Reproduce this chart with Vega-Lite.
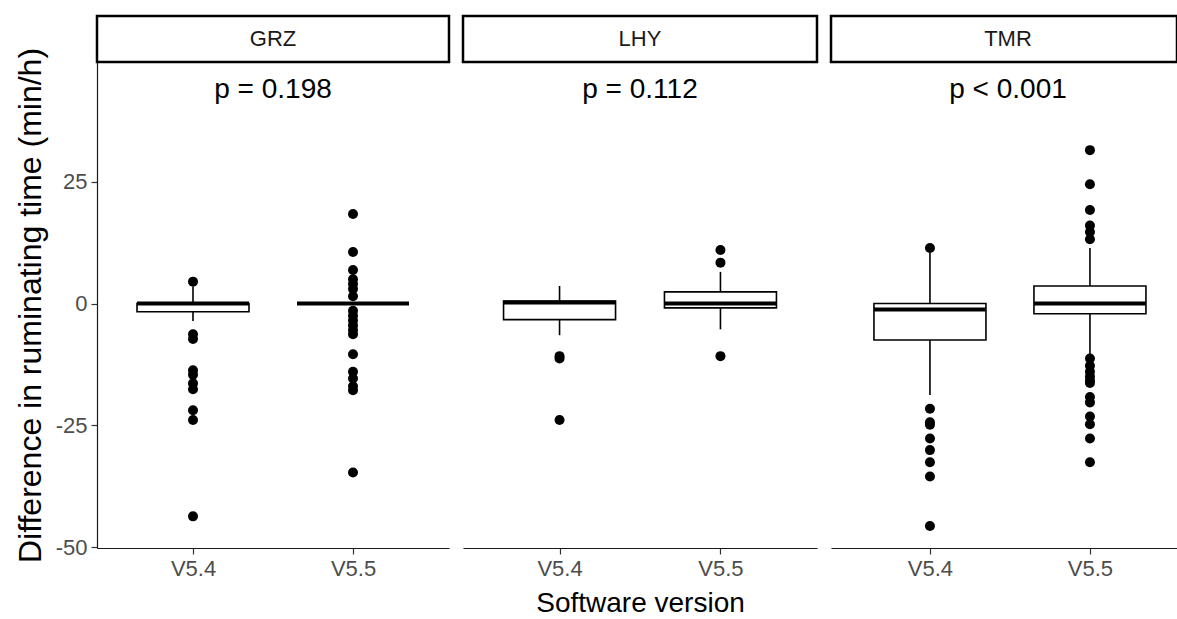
{
  "$schema": "https://vega.github.io/schema/vega-lite/v6.json",
  "padding": {"left": 14, "top": 14, "right": 0, "bottom": 0},
  "background": "white",
  "datasets": {
    "stats": [
      {"group": "GRZ", "version": "V5.4", "lower": -3.6, "q1": -1.7, "median": 0, "q3": 0, "upper": 3.5},
      {"group": "GRZ", "version": "V5.5", "lower": 0, "q1": 0, "median": 0, "q3": 0, "upper": 0},
      {"group": "LHY", "version": "V5.4", "lower": -6.5, "q1": -3.3, "median": 0.2, "q3": 0.5, "upper": 3.6},
      {"group": "LHY", "version": "V5.5", "lower": -5.3, "q1": -0.9, "median": 0, "q3": 2.4, "upper": 6.5},
      {"group": "TMR", "version": "V5.4", "lower": -18.8, "q1": -7.5, "median": -1.2, "q3": 0, "upper": 10.5},
      {"group": "TMR", "version": "V5.5", "lower": -10.5, "q1": -2.1, "median": 0, "q3": 3.6, "upper": 11.4}
    ],
    "outliers": [
      {"group": "GRZ", "version": "V5.4", "value": 4.5},
      {"group": "GRZ", "version": "V5.4", "value": -6.3},
      {"group": "GRZ", "version": "V5.4", "value": -7.3},
      {"group": "GRZ", "version": "V5.4", "value": -13.7},
      {"group": "GRZ", "version": "V5.4", "value": -14.6},
      {"group": "GRZ", "version": "V5.4", "value": -16.4},
      {"group": "GRZ", "version": "V5.4", "value": -17.6},
      {"group": "GRZ", "version": "V5.4", "value": -21.9},
      {"group": "GRZ", "version": "V5.4", "value": -23.9},
      {"group": "GRZ", "version": "V5.4", "value": -43.7},
      {"group": "GRZ", "version": "V5.5", "value": 18.4},
      {"group": "GRZ", "version": "V5.5", "value": 10.6},
      {"group": "GRZ", "version": "V5.5", "value": 6.9},
      {"group": "GRZ", "version": "V5.5", "value": 5.0},
      {"group": "GRZ", "version": "V5.5", "value": 4.0},
      {"group": "GRZ", "version": "V5.5", "value": 3.0},
      {"group": "GRZ", "version": "V5.5", "value": 1.5},
      {"group": "GRZ", "version": "V5.5", "value": -1.5},
      {"group": "GRZ", "version": "V5.5", "value": -2.5},
      {"group": "GRZ", "version": "V5.5", "value": -3.5},
      {"group": "GRZ", "version": "V5.5", "value": -4.5},
      {"group": "GRZ", "version": "V5.5", "value": -5.5},
      {"group": "GRZ", "version": "V5.5", "value": -6.3},
      {"group": "GRZ", "version": "V5.5", "value": -10.4},
      {"group": "GRZ", "version": "V5.5", "value": -14.0},
      {"group": "GRZ", "version": "V5.5", "value": -15.4},
      {"group": "GRZ", "version": "V5.5", "value": -17.0},
      {"group": "GRZ", "version": "V5.5", "value": -17.8},
      {"group": "GRZ", "version": "V5.5", "value": -34.7},
      {"group": "LHY", "version": "V5.4", "value": -10.8},
      {"group": "LHY", "version": "V5.4", "value": -11.3},
      {"group": "LHY", "version": "V5.4", "value": -23.9},
      {"group": "LHY", "version": "V5.5", "value": 11.0},
      {"group": "LHY", "version": "V5.5", "value": 8.4},
      {"group": "LHY", "version": "V5.5", "value": -10.8},
      {"group": "TMR", "version": "V5.4", "value": 11.4},
      {"group": "TMR", "version": "V5.4", "value": -21.6},
      {"group": "TMR", "version": "V5.4", "value": -24.4},
      {"group": "TMR", "version": "V5.4", "value": -24.9},
      {"group": "TMR", "version": "V5.4", "value": -27.7},
      {"group": "TMR", "version": "V5.4", "value": -30.1},
      {"group": "TMR", "version": "V5.4", "value": -32.6},
      {"group": "TMR", "version": "V5.4", "value": -35.5},
      {"group": "TMR", "version": "V5.4", "value": -45.7},
      {"group": "TMR", "version": "V5.5", "value": 31.5},
      {"group": "TMR", "version": "V5.5", "value": 24.5},
      {"group": "TMR", "version": "V5.5", "value": 19.2},
      {"group": "TMR", "version": "V5.5", "value": 16.0},
      {"group": "TMR", "version": "V5.5", "value": 14.7},
      {"group": "TMR", "version": "V5.5", "value": 13.2},
      {"group": "TMR", "version": "V5.5", "value": -11.3},
      {"group": "TMR", "version": "V5.5", "value": -12.8},
      {"group": "TMR", "version": "V5.5", "value": -14.0},
      {"group": "TMR", "version": "V5.5", "value": -15.0},
      {"group": "TMR", "version": "V5.5", "value": -15.8},
      {"group": "TMR", "version": "V5.5", "value": -16.3},
      {"group": "TMR", "version": "V5.5", "value": -19.2},
      {"group": "TMR", "version": "V5.5", "value": -20.3},
      {"group": "TMR", "version": "V5.5", "value": -23.2},
      {"group": "TMR", "version": "V5.5", "value": -24.8},
      {"group": "TMR", "version": "V5.5", "value": -27.7},
      {"group": "TMR", "version": "V5.5", "value": -32.6}
    ],
    "pvals": [
      {"group": "GRZ", "label": "p = 0.198"},
      {"group": "LHY", "label": "p = 0.112"},
      {"group": "TMR", "label": "p < 0.001"}
    ]
  },
  "spacing": 10,
  "hconcat": [
    {
      "spacing": 0,
      "bounds": "flush",
      "vconcat": [
        {
          "width": 352, "height": 46,
          "view": {"stroke": "black", "strokeWidth": 2.5, "fill": "white"},
          "data": {"name": "pvals"},
          "transform": [{"filter": "datum.group === 'GRZ'"}],
          "mark": {"type": "text", "fontSize": 22, "color": "#1a1a1a", "font": "Liberation Sans"},
          "encoding": {"text": {"field": "group"}}
        },
        {
          "width": 352, "height": 486,
          "layer": [
            {
              "mark": {"type": "rule", "strokeDash": [7, 5], "strokeWidth": 1.3, "color": "black"},
              "encoding": {"y": {"datum": 0, "type": "quantitative", "scale": {"domain": [-50.2, 49.6], "nice": false, "zero": false}, "axis": {"values": [-50, -25, 0, 25], "labelExpr": "'' + datum.value", "title": "Difference in ruminating time (min/h)", "titlePadding": 8, "titleFontSize": 32}}}
            },
            {
              "data": {"name": "stats"},
              "transform": [{"filter": "datum.group === 'GRZ'"}],
              "mark": {"type": "rule", "strokeWidth": 1.6, "color": "black"},
              "encoding": {
                "x": {"field": "version", "type": "nominal", "scale": {"type": "point", "padding": 0.6}, "axis": {"title": null}},
                "y": {"field": "lower", "type": "quantitative", "axis": {"values": [-50, -25, 0, 25], "labelExpr": "'' + datum.value", "title": "Difference in ruminating time (min/h)", "titlePadding": 8, "titleFontSize": 32}},
                "y2": {"field": "upper"}
              }
            },
            {
              "data": {"name": "stats"},
              "transform": [{"filter": "datum.group === 'GRZ'"}],
              "mark": {"type": "bar", "size": 112, "fill": "white", "stroke": "black", "strokeWidth": 1.6},
              "encoding": {
                "x": {"field": "version", "type": "nominal", "axis": {"title": null}},
                "y": {"field": "q1", "type": "quantitative", "axis": {"values": [-50, -25, 0, 25], "labelExpr": "'' + datum.value", "title": "Difference in ruminating time (min/h)", "titlePadding": 8, "titleFontSize": 32}},
                "y2": {"field": "q3"}
              }
            },
            {
              "data": {"name": "stats"},
              "transform": [{"filter": "datum.group === 'GRZ'"}],
              "mark": {"type": "tick", "size": 112, "thickness": 4, "color": "black", "opacity": 1},
              "encoding": {
                "x": {"field": "version", "type": "nominal", "axis": {"title": null}},
                "y": {"field": "median", "type": "quantitative", "axis": {"values": [-50, -25, 0, 25], "labelExpr": "'' + datum.value", "title": "Difference in ruminating time (min/h)", "titlePadding": 8, "titleFontSize": 32}}
              }
            },
            {
              "data": {"name": "outliers"},
              "transform": [{"filter": "datum.group === 'GRZ'"}],
              "mark": {"type": "circle", "size": 100, "opacity": 1, "color": "black"},
              "encoding": {
                "x": {"field": "version", "type": "nominal", "axis": {"title": null}},
                "y": {"field": "value", "type": "quantitative", "axis": {"values": [-50, -25, 0, 25], "labelExpr": "'' + datum.value", "title": "Difference in ruminating time (min/h)", "titlePadding": 8, "titleFontSize": 32}}
              }
            },
            {
              "data": {"name": "pvals"},
              "transform": [{"filter": "datum.group === 'GRZ'"}],
              "mark": {"type": "text", "fontSize": 28, "color": "black", "font": "Liberation Sans"},
              "encoding": {
                "text": {"field": "label"},
                "y": {"datum": 43.9, "type": "quantitative", "axis": {"values": [-50, -25, 0, 25], "labelExpr": "'' + datum.value", "title": "Difference in ruminating time (min/h)", "titlePadding": 8, "titleFontSize": 32}}
              }
            }
          ]
        }
      ]
    },
    {
      "spacing": 0,
      "bounds": "flush",
      "vconcat": [
        {
          "width": 354, "height": 46,
          "view": {"stroke": "black", "strokeWidth": 2.5, "fill": "white"},
          "data": {"name": "pvals"},
          "transform": [{"filter": "datum.group === 'LHY'"}],
          "mark": {"type": "text", "fontSize": 22, "color": "#1a1a1a", "font": "Liberation Sans"},
          "encoding": {"text": {"field": "group"}}
        },
        {
          "width": 354, "height": 486,
          "layer": [
            {
              "mark": {"type": "rule", "strokeDash": [7, 5], "strokeWidth": 1.3, "color": "black"},
              "encoding": {"y": {"datum": 0, "type": "quantitative", "scale": {"domain": [-50.2, 49.6], "nice": false, "zero": false}, "axis": null}}
            },
            {
              "data": {"name": "stats"},
              "transform": [{"filter": "datum.group === 'LHY'"}],
              "mark": {"type": "rule", "strokeWidth": 1.6, "color": "black"},
              "encoding": {
                "x": {"field": "version", "type": "nominal", "scale": {"type": "point", "padding": 0.6}, "axis": {"title": "Software version", "titlePadding": 10}},
                "y": {"field": "lower", "type": "quantitative", "axis": null},
                "y2": {"field": "upper"}
              }
            },
            {
              "data": {"name": "stats"},
              "transform": [{"filter": "datum.group === 'LHY'"}],
              "mark": {"type": "bar", "size": 112, "fill": "white", "stroke": "black", "strokeWidth": 1.6},
              "encoding": {
                "x": {"field": "version", "type": "nominal", "axis": {"title": "Software version", "titlePadding": 10}},
                "y": {"field": "q1", "type": "quantitative", "axis": null},
                "y2": {"field": "q3"}
              }
            },
            {
              "data": {"name": "stats"},
              "transform": [{"filter": "datum.group === 'LHY'"}],
              "mark": {"type": "tick", "size": 112, "thickness": 4, "color": "black", "opacity": 1},
              "encoding": {
                "x": {"field": "version", "type": "nominal", "axis": {"title": "Software version", "titlePadding": 10}},
                "y": {"field": "median", "type": "quantitative", "axis": null}
              }
            },
            {
              "data": {"name": "outliers"},
              "transform": [{"filter": "datum.group === 'LHY'"}],
              "mark": {"type": "circle", "size": 100, "opacity": 1, "color": "black"},
              "encoding": {
                "x": {"field": "version", "type": "nominal", "axis": {"title": "Software version", "titlePadding": 10}},
                "y": {"field": "value", "type": "quantitative", "axis": null}
              }
            },
            {
              "data": {"name": "pvals"},
              "transform": [{"filter": "datum.group === 'LHY'"}],
              "mark": {"type": "text", "fontSize": 28, "color": "black", "font": "Liberation Sans"},
              "encoding": {
                "text": {"field": "label"},
                "y": {"datum": 43.9, "type": "quantitative", "axis": null}
              }
            }
          ]
        }
      ]
    },
    {
      "spacing": 0,
      "bounds": "flush",
      "vconcat": [
        {
          "width": 346, "height": 46,
          "view": {"stroke": "black", "strokeWidth": 2.5, "fill": "white"},
          "data": {"name": "pvals"},
          "transform": [{"filter": "datum.group === 'TMR'"}],
          "mark": {"type": "text", "fontSize": 22, "color": "#1a1a1a", "font": "Liberation Sans", "dx": 4},
          "encoding": {"text": {"field": "group"}}
        },
        {
          "width": 346, "height": 486,
          "layer": [
            {
              "mark": {"type": "rule", "strokeDash": [7, 5], "strokeWidth": 1.3, "color": "black"},
              "encoding": {"y": {"datum": 0, "type": "quantitative", "scale": {"domain": [-50.2, 49.6], "nice": false, "zero": false}, "axis": null}}
            },
            {
              "data": {"name": "stats"},
              "transform": [{"filter": "datum.group === 'TMR'"}],
              "mark": {"type": "rule", "strokeWidth": 1.6, "color": "black"},
              "encoding": {
                "x": {"field": "version", "type": "nominal", "scale": {"type": "point", "padding": 0.58125, "align": 0.532}, "axis": {"title": null}},
                "y": {"field": "lower", "type": "quantitative", "axis": null},
                "y2": {"field": "upper"}
              }
            },
            {
              "data": {"name": "stats"},
              "transform": [{"filter": "datum.group === 'TMR'"}],
              "mark": {"type": "bar", "size": 112, "fill": "white", "stroke": "black", "strokeWidth": 1.6},
              "encoding": {
                "x": {"field": "version", "type": "nominal", "axis": {"title": null}},
                "y": {"field": "q1", "type": "quantitative", "axis": null},
                "y2": {"field": "q3"}
              }
            },
            {
              "data": {"name": "stats"},
              "transform": [{"filter": "datum.group === 'TMR'"}],
              "mark": {"type": "tick", "size": 112, "thickness": 4, "color": "black", "opacity": 1},
              "encoding": {
                "x": {"field": "version", "type": "nominal", "axis": {"title": null}},
                "y": {"field": "median", "type": "quantitative", "axis": null}
              }
            },
            {
              "data": {"name": "outliers"},
              "transform": [{"filter": "datum.group === 'TMR'"}],
              "mark": {"type": "circle", "size": 100, "opacity": 1, "color": "black"},
              "encoding": {
                "x": {"field": "version", "type": "nominal", "axis": {"title": null}},
                "y": {"field": "value", "type": "quantitative", "axis": null}
              }
            },
            {
              "data": {"name": "pvals"},
              "transform": [{"filter": "datum.group === 'TMR'"}],
              "mark": {"type": "text", "fontSize": 28, "color": "black", "font": "Liberation Sans", "dx": 4},
              "encoding": {
                "text": {"field": "label"},
                "y": {"datum": 43.9, "type": "quantitative", "axis": null}
              }
            }
          ]
        }
      ]
    }
  ],
  "config": {
    "font": "Liberation Sans",
    "view": {"stroke": null},
    "axis": {
      "grid": false,
      "labelFont": "Liberation Sans",
      "labelFontSize": 22,
      "labelColor": "#4d4d4d",
      "labelAngle": 0,
      "labelPadding": 4,
      "tickColor": "#333333",
      "tickSize": 6,
      "tickWidth": 1.2,
      "domainColor": "#1a1a1a",
      "domainWidth": 1.2,
      "titleFont": "Liberation Sans",
      "titleFontSize": 28,
      "titleFontWeight": "normal",
      "titleColor": "black"
    }
  }
}
